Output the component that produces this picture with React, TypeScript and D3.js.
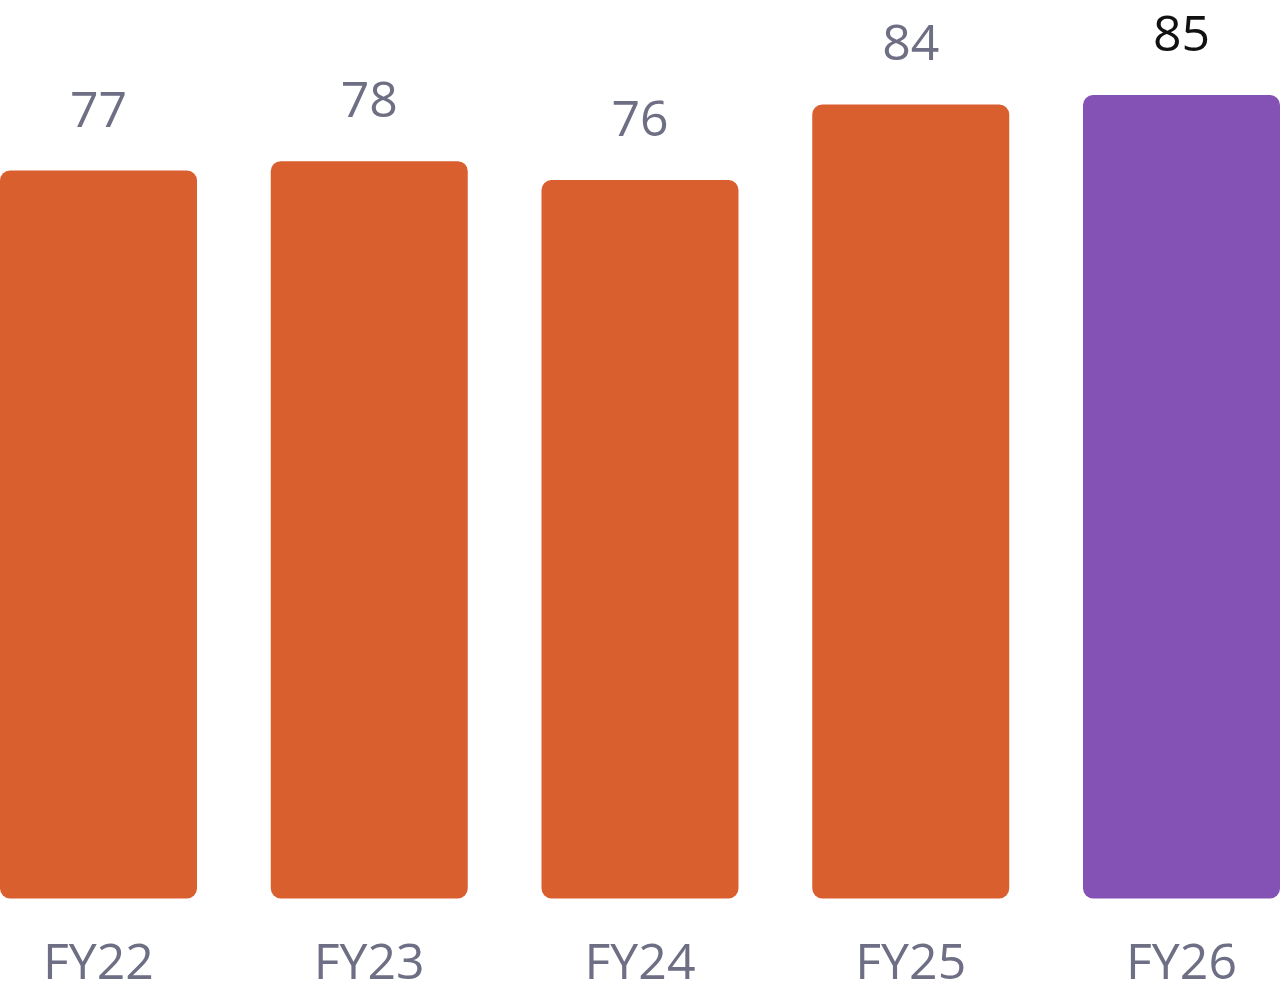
import * as d3 from "d3";
import React, { useEffect, useRef } from "react";

const categories = ["FY22", "FY23", "FY24", "FY25", "FY26"];
const values = [77, 78, 76, 84, 85];
const highlight = ["FY26"];

const WIDTH = 1280;
const HEIGHT = 995;

const App: React.FC = () => {
  const chartRef = useRef<SVGSVGElement>(null);

  useEffect(() => {
    if (!chartRef.current) return;
    const svg = d3.select(chartRef.current);
    svg.selectAll("*").remove();

    const data = categories.map((c, i) => ({ cat: c, value: values[i] }));
    const baseline = 898.5;

    const x = d3
      .scaleBand()
      .domain(categories)
      .range([0, WIDTH])
      .paddingInner(0.2724)
      .paddingOuter(0);

    const y = d3.scaleLinear().domain([0, 85]).range([baseline, 95]);

    const font = "'Open Sans', 'Noto Sans', sans-serif";

    // Bars
    svg
      .selectAll(".bar")
      .data(data)
      .enter()
      .append("rect")
      .attr("class", "bar")
      .attr("x", (d) => x(d.cat) || 0)
      .attr("y", (d) => y(d.value))
      .attr("width", x.bandwidth())
      .attr("height", (d) => baseline - y(d.value))
      .attr("rx", 10)
      .attr("ry", 10)
      .attr("fill", (d) => (highlight.includes(d.cat) ? "#8452B5" : "#DA5F2E"));

    // Value labels
    svg
      .selectAll(".value-label")
      .data(data)
      .enter()
      .append("text")
      .attr("class", "value-label")
      .attr("x", (d) => (x(d.cat) || 0) + x.bandwidth() / 2)
      .attr("y", (d) => y(d.value) - 44)
      .attr("text-anchor", "middle")
      .style("font-family", font)
      .style("font-size", "50px")
      .attr("fill", (d) => (highlight.includes(d.cat) ? "#111111" : "#6E6E84"))
      .text((d) => d.value);

    // Category labels
    svg
      .selectAll(".cat-label")
      .data(data)
      .enter()
      .append("text")
      .attr("class", "cat-label")
      .attr("x", (d) => (x(d.cat) || 0) + x.bandwidth() / 2)
      .attr("y", 979)
      .attr("text-anchor", "middle")
      .style("font-family", font)
      .style("font-size", "50px")
      .attr("fill", "#6E6E84")
      .text((d) => d.cat);
  }, []);

  return (
    <svg
      ref={chartRef}
      width={WIDTH}
      height={HEIGHT}
      style={{ position: "absolute", left: 0, top: 0, background: "#ffffff" }}
    />
  );
};

export default App;
